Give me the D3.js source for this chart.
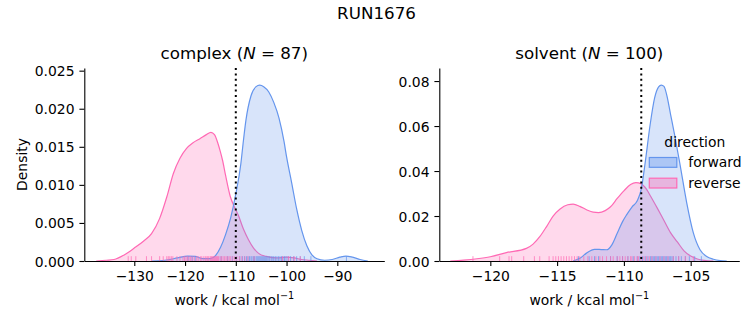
<!DOCTYPE html>
<html>
<head>
<meta charset="utf-8">
<script src="https://cdn.jsdelivr.net/npm/d3@7"></script>
<style>
    body { margin: 0; background: #fff; }
    svg text { font-family: "DejaVu Sans", sans-serif; fill: #000; }
</style>
</head>
<body>
<div id="chart"></div>
<script>

// ---- data ----

const directions = ["forward", "reverse"];
const dirColors = {forward: "#6495ed", reverse: "#ff69b4"};

// complex leg: kde curves (work grid / density)
const complexFwdX = [-126.5, -124, -121.5, -119.5, -118, -116.5, -115, -114, -113, -112, -111, -110, -109, -108.5, -108, -107, -106, -105.3, -104.5, -103.5, -102.5, -101.5, -100.5, -100, -99, -98, -97, -96, -95, -94, -92.5, -91, -89.5, -88.3, -87, -85.5, -84];
const complexFwdY = [0, 0.0001, 0.0004, 0.00065, 0.0006, 0.0003, 0.0003, 0.0007, 0.0018, 0.0035, 0.0057, 0.0088, 0.0128, 0.0158, 0.0185, 0.0217, 0.0229, 0.0231, 0.0229, 0.0222, 0.0208, 0.0188, 0.0157, 0.0137, 0.0103, 0.0068, 0.0040, 0.0020, 0.0008, 0.0003, 0.0001, 0.0002, 0.0005, 0.00065, 0.0005, 0.0002, 0];
const complexRevX = [-137.5, -135.5, -134, -132, -130, -128.2, -126.6, -125, -123.6, -122.3, -121, -119.7, -118.5, -117, -115.8, -114.9, -114.2, -113.5, -113.1, -112.6, -112, -111.1, -110.2, -109.5, -108.5, -107.5, -106.5, -105.5, -104, -102, -100, -98.5, -97, -95.5, -94];
const complexRevY = [0, 0.0001, 0.0002, 0.0008, 0.0017, 0.0026, 0.0036, 0.0056, 0.0084, 0.0115, 0.0135, 0.0148, 0.0155, 0.0161, 0.0166, 0.0169, 0.0166, 0.0154, 0.0145, 0.0132, 0.0112, 0.0085, 0.0070, 0.0060, 0.0042, 0.0028, 0.0017, 0.0010, 0.0006, 0.0004, 0.0005, 0.0004, 0.0002, 0.0001, 0];

// complex leg: individual work values (rug)
const complexFwdWork = [-119.4, -118.6, -118.0, -112.9, -111.6, -110.7, -109.9, -109.2, -108.7, -108.3, -107.9, -107.6, -107.3, -107.0, -106.8, -106.5, -106.3, -106.0, -105.8, -105.6, -105.4, -105.2, -105.0, -104.8, -104.6, -104.4, -104.2, -104.0, -103.8, -103.5, -103.3, -103.0, -102.7, -102.5, -102.2, -101.9, -101.6, -101.3, -101.0, -100.7, -100.4, -100.1, -99.7, -99.2, -98.6, -98.0, -97.3, -96.5, -95.2, -88.2];
const complexRevWork = [-131.2, -130.6, -129.7, -127.6, -126.6, -125.0, -124.3, -123.6, -123.3, -123.0, -122.7, -122.4, -121.6, -121.0, -120.4, -120.1, -119.8, -119.5, -119.2, -118.9, -118.6, -118.2, -117.7, -117.4, -117.0, -116.7, -116.3, -116.0, -115.7, -115.5, -115.3, -115.0, -114.8, -114.6, -114.4, -114.2, -114.0, -113.8, -113.6, -113.4, -113.1, -112.8, -112.5, -112.2, -111.9, -111.6, -111.3, -111.0, -110.6, -110.2, -109.8, -109.3, -108.8, -108.2, -107.6, -106.4, -100.8, -99.6, -98.5, -97.3];

// solvent leg: kde curves
const solventFwdX = [-113.8, -113.3, -112.8, -112.2, -111.7, -111.3, -110.9, -110.5, -110.1, -109.8, -109.4, -109.0, -108.7, -108.4, -108.05, -107.7, -107.4, -107.2, -107.0, -106.8, -106.5, -106.2, -105.8, -105.3, -104.8, -104.3, -103.8, -103.3, -102.8, -102.3];
const solventFwdY = [0, 0.0012, 0.0035, 0.0052, 0.0051, 0.0050, 0.0072, 0.0123, 0.0175, 0.0205, 0.0240, 0.0268, 0.0320, 0.0440, 0.0600, 0.0725, 0.0774, 0.0782, 0.0776, 0.0740, 0.0650, 0.0560, 0.0430, 0.0260, 0.0125, 0.0050, 0.0020, 0.0008, 0.0002, 0];
const solventRevX = [-123, -122, -121, -120, -118.8, -117.3, -116.8, -116.3, -115.8, -115.3, -114.8, -114.2, -113.8, -113.3, -112.8, -112.3, -111.9, -111.4, -111.0, -110.5, -110.0, -109.5, -109.1, -108.7, -108.3, -108.0, -107.5, -107.0, -106.5, -106.0, -105.5, -105.0, -104.5, -104.0, -103.3];
const solventRevY = [0, 0.0004, 0.0010, 0.0019, 0.0037, 0.0056, 0.0075, 0.0108, 0.0152, 0.0200, 0.0230, 0.0250, 0.0253, 0.0243, 0.0228, 0.0217, 0.0215, 0.0224, 0.0241, 0.0278, 0.0312, 0.0340, 0.0348, 0.0343, 0.0318, 0.0288, 0.0235, 0.0180, 0.0125, 0.0085, 0.0045, 0.0022, 0.0009, 0.0003, 0];

// solvent leg: individual work values (rug)
const solventFwdWork = [-113.4, -112.6, -112.2, -111.9, -111.0, -110.5, -110.1, -109.7, -109.3, -109.0, -108.8, -108.6, -108.4, -108.2, -108.0, -107.9, -107.8, -107.7, -107.6, -107.5, -107.4, -107.3, -107.2, -107.1, -107.0, -106.9, -106.8, -106.7, -106.6, -106.5, -106.4, -106.3, -106.1, -105.9, -105.7, -105.4, -105.1, -104.7, -104.2];
const solventRevWork = [-121.3, -119.3, -118.6, -118.4, -117.5, -116.7, -116.3, -115.6, -115.3, -115.1, -114.9, -114.7, -114.5, -114.3, -114.1, -113.9, -113.7, -113.5, -113.3, -113.0, -112.7, -112.4, -112.1, -111.8, -111.6, -111.3, -111.0, -110.8, -110.5, -110.3, -110.1, -109.9, -109.7, -109.5, -109.4, -109.2, -109.0, -108.9, -108.7, -108.5, -108.3, -108.1, -107.9, -107.6, -107.3, -107.0, -106.7, -106.3, -105.9, -105.4, -104.8];

// free energy estimate (dotted line)
const complexDeltaG = -110.0;
const solventDeltaG = -108.7;

const complexXTicks = [-130, -120, -110, -100, -90];
const complexYTicks = [0, 0.005, 0.010, 0.015, 0.020, 0.025];
const solventXTicks = [-120, -115, -110, -105];
const solventYTicks = [0, 0.02, 0.04, 0.06, 0.08];


class DensityPanel {

    constructor(svg, opts) {
        this.svg = svg;
        this.opts = opts;
        this.initVis();
    }

    initVis() {
        let vis = this;
        let o = vis.opts;

        vis.width = 300;
        vis.height = 193;

        vis.g = vis.svg.append("g")
            .attr("transform", `translate(${o.left}, 68)`);

        vis.x = d3.scaleLinear().domain(o.xDomain).range([0, vis.width]);
        vis.y = d3.scaleLinear().domain([0, o.yMax]).range([vis.height, 0]);

        // title
        let title = vis.g.append("text")
            .attr("x", vis.width / 2)
            .attr("y", -9)
            .attr("text-anchor", "middle")
            .style("font-size", "16.7px");
        title.append("tspan").text(o.name + " (");
        title.append("tspan").style("font-style", "italic").text("N");
        title.append("tspan").text(" = " + o.n + ")");

        vis.area = d3.area()
            .curve(d3.curveMonotoneX)
            .x(d => vis.x(d[0]))
            .y0(vis.y(0))
            .y1(d => vis.y(d[1]));

        vis.line = d3.line()
            .curve(d3.curveMonotoneX)
            .x(d => vis.x(d[0]))
            .y(d => vis.y(d[1]));

        vis.updateVis();
    }

    updateVis() {
        let vis = this;
        let o = vis.opts;

        // reverse first so forward sits on top
        ["reverse", "forward"].forEach(dir => {
            let pts = d3.zip(o.curves[dir][0], o.curves[dir][1]);
            vis.g.append("path")
                .datum(pts)
                .attr("d", vis.area)
                .attr("fill", dirColors[dir])
                .attr("fill-opacity", 0.25);
            vis.g.append("path")
                .datum(pts)
                .attr("d", vis.line)
                .attr("fill", "none")
                .attr("stroke", dirColors[dir])
                .attr("stroke-width", 1.2);
        });

        // rug
        ["forward", "reverse"].forEach(dir => {
            vis.g.append("g")
                .selectAll("line")
                .data(o.rugs[dir])
                .enter().append("line")
                .attr("x1", d => vis.x(d))
                .attr("x2", d => vis.x(d))
                .attr("y1", vis.height)
                .attr("y2", vis.height - vis.height * 0.025)
                .attr("stroke", dirColors[dir])
                .attr("stroke-opacity", 0.7)
                .attr("stroke-width", 1);
        });

        // dotted line for the estimate
        vis.g.append("line")
            .attr("x1", vis.x(o.deltaG))
            .attr("x2", vis.x(o.deltaG))
            .attr("y1", 0)
            .attr("y2", vis.height)
            .attr("stroke", "#000")
            .attr("stroke-width", 2)
            .attr("stroke-dasharray", "2,3.4");

        // axes
        let xAxis = vis.g.append("g")
            .attr("transform", `translate(0, ${vis.height})`)
            .call(d3.axisBottom(vis.x).tickValues(o.xTicks).tickFormat(d3.format("d"))
                .tickSize(4.9).tickSizeOuter(0).tickPadding(5.3));
        let yAxis = vis.g.append("g")
            .call(d3.axisLeft(vis.y).tickValues(o.yTicks).tickFormat(d3.format(o.yFormat))
                .tickSize(4.9).tickSizeOuter(0).tickPadding(4.9));

        [xAxis, yAxis].forEach(ax => {
            ax.selectAll("path, line").attr("stroke", "#000").attr("stroke-width", 1.1);
            ax.selectAll("text").style("font-size", "13.9px").attr("font-family", null);
        });
        yAxis.selectAll("text").attr("dy", "0.36em");

        // x label
        let xl = vis.g.append("text")
            .attr("x", vis.width / 2)
            .attr("y", 236.5)
            .attr("text-anchor", "middle")
            .style("font-size", "13.9px");
        xl.append("tspan").text("work / kcal mol");
        xl.append("tspan").attr("dy", -5.5).style("font-size", "9.7px").text("\u22121");

        if (o.yLabel) {
            vis.g.append("text")
                .attr("transform", `translate(${26.5 - o.left}, ${vis.height / 2}) rotate(-90)`)
                .attr("text-anchor", "middle")
                .style("font-size", "13.9px")
                .text(o.yLabel);
        }

        if (o.legend) vis.drawLegend();
    }

    drawLegend() {
        let vis = this;
        let lg = vis.g.append("g").attr("transform", `translate(210, 0)`);

        lg.append("text")
            .attr("x", 45.5)
            .attr("y", 78.5)
            .attr("text-anchor", "middle")
            .style("font-size", "13.9px")
            .text("direction");

        directions.forEach((dir, i) => {
            let row = lg.append("g").attr("transform", `translate(0, ${89.5 + i * 20.7})`);
            row.append("rect")
                .attr("width", 27.5)
                .attr("height", 9.8)
                .attr("fill", dirColors[dir])
                .attr("fill-opacity", 0.38)
                .attr("stroke", dirColors[dir])
                .attr("stroke-width", 1.2);
            row.append("text")
                .attr("x", 39)
                .attr("y", 9.3)
                .style("font-size", "13.9px")
                .text(dir);
        });
    }
}


let svg = d3.select("#chart").append("svg")
    .attr("width", 753)
    .attr("height", 325)
    .style("background", "#fff");

svg.append("text")
    .attr("x", 376.5)
    .attr("y", 18.5)
    .attr("text-anchor", "middle")
    .style("font-size", "16.7px")
    .text("RUN1676");

new DensityPanel(svg, {
    name: "complex", n: 87, left: 84.3,
    xDomain: [-139.85, -80.74], yMax: 0.02535,
    xTicks: complexXTicks, yTicks: complexYTicks, yFormat: ".3f",
    curves: {forward: [complexFwdX, complexFwdY], reverse: [complexRevX, complexRevY]},
    rugs: {forward: complexFwdWork, reverse: complexRevWork},
    deltaG: complexDeltaG, yLabel: "Density", legend: false
});

new DensityPanel(svg, {
    name: "solvent", n: 100, left: 439.3,
    xDomain: [-123.82, -101.36], yMax: 0.0858,
    xTicks: solventXTicks, yTicks: solventYTicks, yFormat: ".2f",
    curves: {forward: [solventFwdX, solventFwdY], reverse: [solventRevX, solventRevY]},
    rugs: {forward: solventFwdWork, reverse: solventRevWork},
    deltaG: solventDeltaG, yLabel: null, legend: true
});

</script>
</body>
</html>
